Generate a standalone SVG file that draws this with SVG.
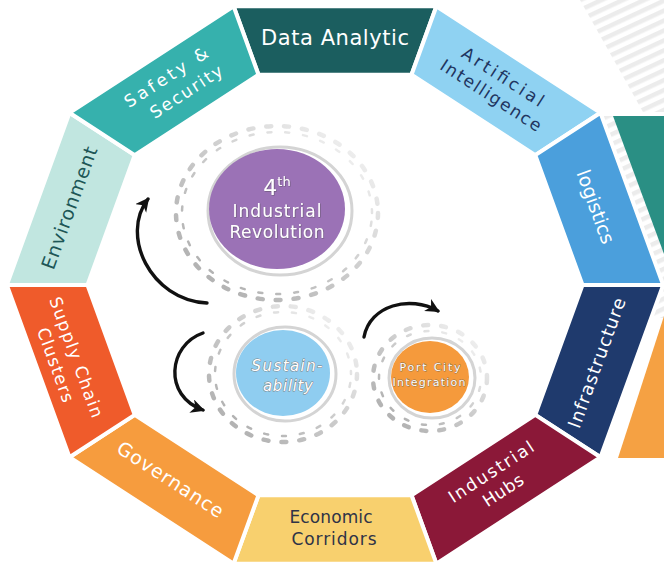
<svg xmlns="http://www.w3.org/2000/svg" width="664" height="562" viewBox="0 0 664 562">
  <style>
    .seg { stroke: #ffffff; stroke-width: 4; stroke-linejoin: round; }
    .lbl { font-family: "DejaVu Sans", "Liberation Sans", sans-serif; text-anchor: middle; }
    .w { fill: #ffffff; }
    .teeth { fill: none; stroke: url(#gearGrad); stroke-width: 4.5; stroke-dasharray: 5 13; stroke-linecap: round; }
    .teeth2 { fill: none; stroke: url(#gearGrad); stroke-width: 2.5; stroke-dasharray: 4 14; stroke-linecap: round; }
    .rim { fill: none; stroke: #d4d4d4; stroke-width: 3; }
    .arrow { fill: none; stroke: #111111; stroke-width: 3.4; stroke-linecap: round; marker-end: url(#head); }
    .inner { fill: #ffffff; stroke-linejoin: round; paint-order: stroke; }
  </style>
  <defs>
    <pattern id="stripes" patternUnits="userSpaceOnUse" width="9" height="9" patternTransform="rotate(-25)">
      <rect width="9" height="9" fill="#ffffff"/>
      <rect width="9" height="4.5" fill="#ececec"/>
    </pattern>
    <linearGradient id="gearGrad" x1="0" y1="1" x2="1" y2="0">
      <stop offset="0" stop-color="#a9a9a9"/>
      <stop offset="0.5" stop-color="#cbcbcb"/>
      <stop offset="0.85" stop-color="#ececec"/>
      <stop offset="1" stop-color="#f6f6f6"/>
    </linearGradient>
    <marker id="head" markerUnits="userSpaceOnUse" markerWidth="16" markerHeight="16" refX="12" refY="7" orient="auto">
      <path d="M0,0 L14,7 L0,14 L4,7 z" fill="#111111"/>
    </marker>
    <filter id="soft" x="-10%" y="-10%" width="120%" height="120%">
      <feDropShadow dx="0.6" dy="0.6" stdDeviation="0.5" flood-color="#444444" flood-opacity="0.6"/>
    </filter>
  </defs>

  <rect width="664" height="562" fill="#ffffff"/>

  <!-- cut-off background graphic on the right -->
  <g id="right-edge">
    <polygon points="580,0 664,0 664,112 643,112" fill="url(#stripes)"/>
    <polygon points="603,116 613,116 664,254 664,318 603,318" fill="url(#stripes)"/>
    <polygon points="613,116 664,116 664,254" fill="#2a8f84"/>
    <polygon points="664,316 618,458 664,458" fill="#f5a143"/>
  </g>

  <!-- ring segments -->
  <g id="data-analytic">
    <polygon class="seg" points="233.6,6.3 436.4,6.3 411.5,74.8 258.5,74.8" fill="#1b5e5f"/>
    <text class="lbl w" x="335" y="45" font-size="21" textLength="148">Data Analytic</text>
  </g>
  <g id="artificial-intelligence">
    <polygon class="seg" points="436.4,6.3 600.5,112.8 535.3,155.1 411.5,74.8" fill="#8fd2f2"/>
    <g transform="translate(497,86) rotate(33)" fill="#1f3560">
      <text class="lbl" x="0" y="-5" font-size="17" textLength="94">Artificial</text>
      <text class="lbl" x="0" y="17" font-size="17" textLength="117">Intelligence</text>
    </g>
  </g>
  <g id="logistics">
    <polygon class="seg" points="600.5,112.8 663.2,285 582.5,285 535.3,155.1" fill="#4b9fdc"/>
    <text class="lbl w" transform="translate(595,207) rotate(70)" x="0" y="6" font-size="19" textLength="77">logistics</text>
  </g>
  <g id="infrastructure">
    <polygon class="seg" points="663.2,285 600.5,457.2 535.3,414.9 582.5,285" fill="#1f3a6d"/>
    <text class="lbl w" transform="translate(597,363) rotate(-70)" x="0" y="6" font-size="18" textLength="137">Infrastructure</text>
  </g>
  <g id="industrial-hubs">
    <polygon class="seg" points="600.5,457.2 436.4,563.7 411.5,495.2 535.3,414.9" fill="#8b1838"/>
    <g transform="translate(497,481) rotate(-33)" fill="#ffffff">
      <text class="lbl" x="0" y="-5" font-size="17" textLength="98">Industrial</text>
      <text class="lbl" x="0" y="17" font-size="17" textLength="45">Hubs</text>
    </g>
  </g>
  <g id="economic-corridors">
    <polygon class="seg" points="436.4,563.7 233.6,563.7 258.5,495.2 411.5,495.2" fill="#f8d06e"/>
    <text class="lbl" x="331" y="523" font-size="17" fill="#2f3347" textLength="83">Economic</text>
    <text class="lbl" x="334" y="545" font-size="17" fill="#2f3347" textLength="85">Corridors</text>
  </g>
  <g id="governance">
    <polygon class="seg" points="233.6,563.7 69.5,457.2 134.7,414.9 258.5,495.2" fill="#f69c3e"/>
    <text class="lbl w" transform="translate(170,480) rotate(33)" x="0" y="6" font-size="19" textLength="123">Governance</text>
  </g>
  <g id="supply-chain-clusters">
    <polygon class="seg" points="69.5,457.2 6.8,285 87.5,285 134.7,414.9" fill="#ef5b2b"/>
    <g transform="translate(66,361) rotate(70)" fill="#ffffff">
      <text class="lbl" x="0" y="-5" font-size="17" textLength="127">Supply Chain</text>
      <text class="lbl" x="0" y="17" font-size="17" textLength="78">Clusters</text>
    </g>
  </g>
  <g id="environment">
    <polygon class="seg" points="6.8,285 69.5,112.8 134.7,155.1 87.5,285" fill="#c1e6e0"/>
    <text class="lbl" transform="translate(70,208) rotate(-70)" x="0" y="6" font-size="19" fill="#1d5656" textLength="129">Environment</text>
  </g>
  <g id="safety-security">
    <polygon class="seg" points="69.5,112.8 233.6,6.3 258.5,74.8 134.7,155.1" fill="#36b1ad"/>
    <g transform="translate(176,85) rotate(-33)" fill="#ffffff">
      <text class="lbl" x="-4" y="-6" font-size="17" textLength="96">Safety &amp;</text>
      <text class="lbl" x="5" y="17" font-size="17" textLength="83">Security</text>
    </g>
  </g>

  <!-- gears -->
  <g id="industrial-revolution">
    <ellipse class="teeth" cx="277" cy="213" rx="101" ry="87"/>
    <ellipse class="teeth2" cx="277" cy="213" rx="95" ry="81" stroke-dashoffset="9"/>
    <ellipse class="rim" cx="280" cy="211" rx="72" ry="64"/>
    <ellipse cx="277" cy="209" rx="68" ry="60" fill="#9b72b6"/>
    <g filter="url(#soft)" fill="#ffffff">
      <text class="lbl" x="277" y="195" font-size="22">4<tspan font-size="13" dy="-9">th</tspan></text>
      <text class="lbl" x="277" y="217" font-size="17" textLength="89">Industrial</text>
      <text class="lbl" x="277" y="238" font-size="17" textLength="95">Revolution</text>
    </g>
  </g>
  <g id="sustainability">
    <ellipse class="teeth" cx="283" cy="374" rx="74" ry="68"/>
    <ellipse class="teeth2" cx="283" cy="374" rx="68" ry="62" stroke-dashoffset="9"/>
    <ellipse class="rim" cx="285" cy="374" rx="51" ry="47"/>
    <ellipse cx="283" cy="373" rx="47" ry="43" fill="#8fcdf0"/>
    <text class="lbl inner" x="287" y="371" font-size="15" font-style="italic" stroke="#808080" stroke-width="1" textLength="71">Sustain-</text>
    <text class="lbl inner" x="288" y="391" font-size="15" font-style="italic" stroke="#808080" stroke-width="1" textLength="50">ability</text>
  </g>
  <g id="port-city-integration">
    <ellipse class="teeth" cx="430" cy="378" rx="57" ry="53"/>
    <ellipse class="teeth2" cx="430" cy="378" rx="51" ry="47" stroke-dashoffset="9"/>
    <ellipse class="rim" cx="432" cy="378" rx="43" ry="40"/>
    <ellipse cx="430" cy="377" rx="39" ry="36" fill="#f59a3c"/>
    <text class="lbl inner" x="430" y="371" font-size="11" stroke="#8a6a4a" stroke-width="0.8" textLength="61">Port City</text>
    <text class="lbl inner" x="429" y="386" font-size="11" stroke="#8a6a4a" stroke-width="0.8" textLength="73">Integration</text>
  </g>

  <!-- connectors -->
  <g id="connectors">
    <path class="arrow" d="M207,303 C150,300 120,235 148,199"/>
    <path class="arrow" d="M203,333 C168,345 163,396 203,410"/>
    <path class="arrow" d="M364,337 C370,305 410,295 438,311"/>
  </g>
</svg>
